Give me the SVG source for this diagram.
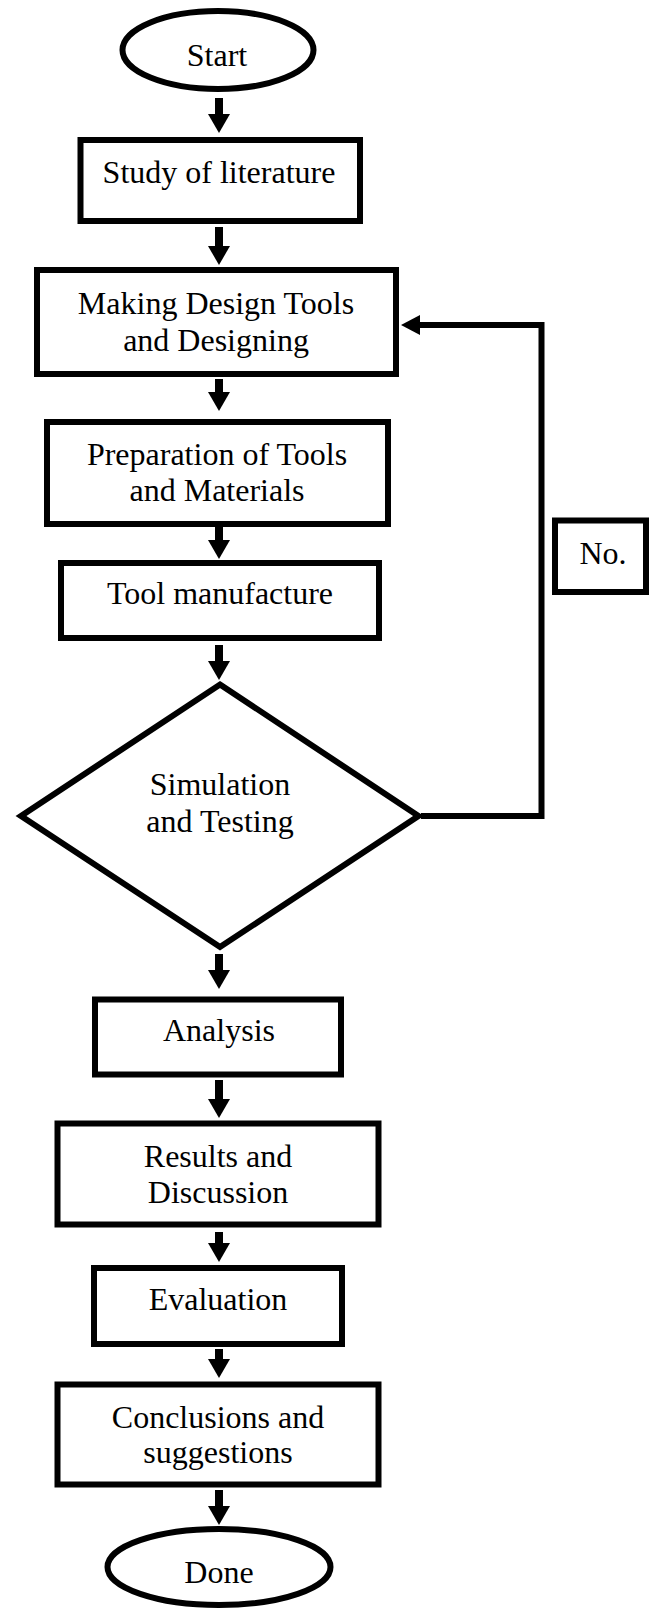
<svg xmlns="http://www.w3.org/2000/svg" width="649" height="1610" viewBox="0 0 649 1610">
<style>
.n{fill:#fff;stroke:#000;stroke-width:6}
.t{font-family:"Liberation Serif","Times New Roman",serif;font-size:32px;fill:#000;text-anchor:middle}
.a{fill:none;stroke:#000;stroke-width:8}
.f{fill:none;stroke:#000;stroke-width:6;stroke-linejoin:miter}
</style>
<defs>
<marker id="ah" markerUnits="userSpaceOnUse" markerWidth="20" markerHeight="22" refX="1" refY="11" orient="auto">
<path d="M0,0 L19,11 L0,22 z" fill="#000"/>
</marker>
<marker id="ahs" markerUnits="userSpaceOnUse" markerWidth="20" markerHeight="20" refX="1" refY="10" orient="auto">
<path d="M0,0 L19,10 L0,20 z" fill="#000"/>
</marker>
</defs>
<rect width="649" height="1610" fill="#fff"/>
<g id="connectors">
<line class="a" x1="219" y1="98" x2="219" y2="115" marker-end="url(#ah)"/>
<line class="a" x1="219" y1="227" x2="219" y2="247" marker-end="url(#ah)"/>
<line class="a" x1="219" y1="379" x2="219" y2="393" marker-end="url(#ah)"/>
<line class="a" x1="219" y1="527" x2="219" y2="541" marker-end="url(#ah)"/>
<line class="a" x1="219" y1="645" x2="219" y2="662" marker-end="url(#ah)"/>
<line class="a" x1="219" y1="954" x2="219" y2="971" marker-end="url(#ah)"/>
<line class="a" x1="219" y1="1080" x2="219" y2="1100" marker-end="url(#ah)"/>
<line class="a" x1="219" y1="1232" x2="219" y2="1244" marker-end="url(#ah)"/>
<line class="a" x1="219" y1="1349" x2="219" y2="1360" marker-end="url(#ah)"/>
<line class="a" x1="219" y1="1490" x2="219" y2="1507" marker-end="url(#ah)"/>
<polyline class="f" points="421,816 541.5,816 541.5,325 419,325" marker-end="url(#ahs)"/>
</g>
<g id="start">
<ellipse class="n" cx="218" cy="50" rx="95.5" ry="39"/>
<text class="t" x="217" y="66">Start</text>
</g>
<g id="study">
<rect class="n" x="80.5" y="140" width="279.5" height="81"/>
<text class="t" x="219" y="182.5">Study of literature</text>
</g>
<g id="making">
<rect class="n" x="37" y="270" width="359" height="104"/>
<text class="t" x="216" y="313.5">Making Design Tools</text>
<text class="t" x="216" y="351">and Designing</text>
</g>
<g id="prep">
<rect class="n" x="47" y="422" width="341" height="102"/>
<text class="t" x="217" y="465">Preparation of Tools</text>
<text class="t" x="217" y="501">and Materials</text>
</g>
<g id="tool">
<rect class="n" x="61" y="563" width="318" height="75"/>
<text class="t" x="220" y="604">Tool manufacture</text>
</g>
<g id="sim">
<polygon class="n" points="220,684.5 418.5,816 220,947 21,816"/>
<text class="t" x="220" y="795">Simulation</text>
<text class="t" x="220" y="832">and Testing</text>
</g>
<g id="no">
<rect class="n" x="555" y="520.5" width="91" height="71.5"/>
<text class="t" x="603" y="564">No.</text>
</g>
<g id="analysis">
<rect class="n" x="95" y="999.5" width="246" height="75"/>
<text class="t" x="219" y="1041">Analysis</text>
</g>
<g id="results">
<rect class="n" x="57.5" y="1123.5" width="321" height="101"/>
<text class="t" x="218" y="1166.5">Results and</text>
<text class="t" x="218" y="1202.5">Discussion</text>
</g>
<g id="evaluation">
<rect class="n" x="94" y="1268" width="248" height="76"/>
<text class="t" x="218" y="1310">Evaluation</text>
</g>
<g id="conclusions">
<rect class="n" x="57.5" y="1384.5" width="321" height="100"/>
<text class="t" x="218" y="1427.5">Conclusions and</text>
<text class="t" x="218" y="1463">suggestions</text>
</g>
<g id="done">
<ellipse class="n" cx="219" cy="1567" rx="111.5" ry="38"/>
<text class="t" x="219" y="1583">Done</text>
</g>
</svg>
